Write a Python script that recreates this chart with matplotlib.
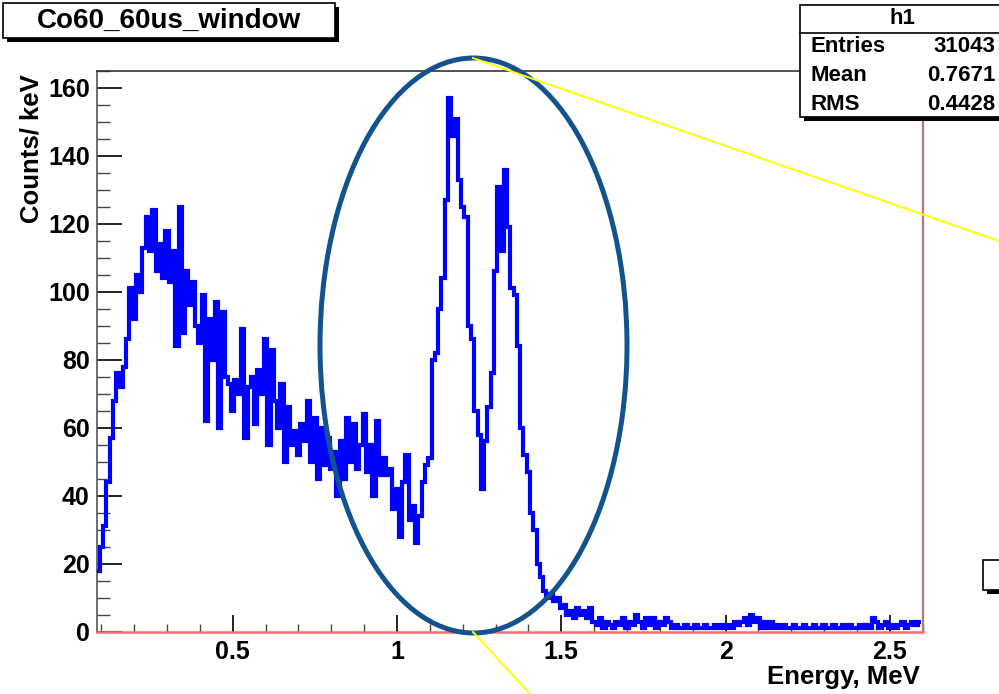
import matplotlib
matplotlib.use('Agg')
import matplotlib.pyplot as plt
import numpy as np
from matplotlib.patches import Rectangle, Ellipse
from matplotlib.lines import Line2D
from matplotlib.ticker import FixedLocator, MultipleLocator, FuncFormatter

plt.rcParams['font.family'] = ['Liberation Sans', 'DejaVu Sans']
plt.rcParams['font.weight'] = 'bold'

# 画布尺寸（像素）
W, H = 999, 694

# 文本
TITLE = 'Co60_60us_window'
X_LABEL = 'Energy, MeV'
Y_LABEL = 'Counts/ keV'
STATS_NAME = 'h1'
STATS_LABELS = ['Entries', 'Mean', 'RMS']
STATS_VALUES = ['31043', '0.7671', '0.4428']

# 直方图：起点 0.085 MeV，每格 0.01 MeV
E_START = 0.085
BIN_WIDTH = 0.01
counts = [
    18, 25, 31, 44, 57, 68, 76, 72, 78, 86,            # 0.09 - 0.18
    101, 92, 105, 100, 113, 122, 112, 124, 106, 114,   # 0.19 - 0.28
    104, 118, 103, 112, 84, 125, 88, 106, 96, 103,     # 0.29 - 0.38
    90, 85, 99, 62, 92, 80, 97, 60, 94, 75,            # 0.39 - 0.48
    73, 65, 74, 70, 89, 57, 72, 75, 61, 77,            # 0.49 - 0.58
    70, 86, 55, 83, 68, 60, 73, 50, 66, 55,            # 0.59 - 0.68
    59, 52, 61, 56, 68, 50, 63, 45, 60, 49,            # 0.69 - 0.78
    57, 48, 53, 40, 56, 45, 63, 50, 61, 48,            # 0.79 - 0.88
    55, 64, 47, 55, 40, 62, 46, 51, 46, 48,            # 0.89 - 0.98
    36, 42, 28, 44, 52, 33, 37, 26, 34, 44,            # 0.99 - 1.08
    49, 51, 80, 82, 95, 104, 127, 157, 146, 151,       # 1.09 - 1.18
    133, 125, 122, 90, 86, 65, 58, 42, 56, 66,         # 1.19 - 1.28
    76, 106, 131, 112, 136, 119, 101, 99, 84, 60,      # 1.29 - 1.38
    52, 47, 35, 30, 20, 16, 12, 10, 11, 9,             # 1.39 - 1.48
    10, 7, 8, 5, 6, 4, 7, 5, 6, 4,                     # 1.49 - 1.58
    7, 3, 2, 4, 1, 3, 2, 1, 3, 2,                      # 1.59 - 1.68
    4, 1, 3, 2, 5, 3, 1, 4, 2, 4,                      # 1.69 - 1.78
    1, 3, 2, 4, 3, 1, 2, 1, 1, 2,                      # 1.79 - 1.88
    1, 1, 2, 1, 1, 2, 1, 1, 2, 1,                      # 1.89 - 1.98
    2, 1, 2, 1, 3, 2, 3, 4, 2, 5,                      # 1.99 - 2.08
    3, 4, 1, 3, 1, 3, 1, 2, 1, 2,                      # 2.09 - 2.18
    1, 1, 2, 1, 1, 2, 1, 1, 2, 1,                      # 2.19 - 2.28
    1, 2, 1, 1, 2, 1, 1, 2, 1, 2,                      # 2.29 - 2.38
    1, 1, 2, 1, 2, 1, 4, 3, 1, 2,                      # 2.39 - 2.48
    3, 1, 2, 1, 2, 3, 1, 2, 3, 2,                      # 2.49 - 2.58
    3,                                                 # 2.59
]

X_RANGE = (0.086, 2.6)
Y_RANGE = (0, 165)
X_TICKS = [0.5, 1, 1.5, 2, 2.5]
Y_TICKS = [0, 20, 40, 60, 80, 100, 120, 140, 160]


def fx(x):
    return x / W


def fy(y):
    return 1 - y / H


def shadow_box(x0, y0, x1, y1, sh=4):
    """ROOT 风格带阴影的白框（像素坐标）"""
    fig.add_artist(Rectangle((fx(x0 + sh), fy(y1 + sh)), fx(x1) - fx(x0), fy(y0) - fy(y1),
                             transform=fig.transFigure, facecolor='black',
                             edgecolor='none', zorder=10))
    fig.add_artist(Rectangle((fx(x0), fy(y1)), fx(x1) - fx(x0), fy(y0) - fy(y1),
                             transform=fig.transFigure, facecolor='white',
                             edgecolor='black', lw=1.2, zorder=11))


fig = plt.figure(figsize=(W / 100, H / 100), dpi=100)
ax = fig.add_axes([fx(96.7), fy(631.7), fx(922.7) - fx(96.7), fy(71) - fy(631.7)])

edges = E_START + BIN_WIDTH * np.arange(len(counts) + 1)
ax.stairs(counts, edges, baseline=None, color='#0000ff', lw=3.0, zorder=3)

ax.set_xlim(*X_RANGE)
ax.set_ylim(*Y_RANGE)

ax.xaxis.set_major_locator(FixedLocator(X_TICKS))
ax.xaxis.set_minor_locator(MultipleLocator(0.1))
ax.yaxis.set_major_locator(FixedLocator(Y_TICKS))
ax.yaxis.set_minor_locator(MultipleLocator(5))
ax.xaxis.set_major_formatter(FuncFormatter(lambda v, p: f'{v:g}'))
ax.yaxis.set_major_formatter(FuncFormatter(lambda v, p: f'{v:g}'))

ax.tick_params(axis='y', which='major', direction='in', length=18, width=1.2,
               color='black', labelsize=18, pad=5)
ax.tick_params(axis='y', which='minor', direction='in', length=9, width=1.0, color='#444444')
ax.tick_params(axis='x', which='major', direction='in', length=12, width=1.2,
               color='black', labelsize=18, pad=6)
ax.tick_params(axis='x', which='minor', direction='in', length=6, width=1.0, color='#444444')
for lab in ax.get_xticklabels() + ax.get_yticklabels():
    lab.set_fontweight('bold')

ax.spines['left'].set_color('#555555')
ax.spines['left'].set_linewidth(1.2)
ax.spines['top'].set_color('#333333')
ax.spines['top'].set_linewidth(1.2)
ax.spines['right'].set_color('#b07a7a')
ax.spines['right'].set_linewidth(1.6)
ax.spines['bottom'].set_color('#f07070')
ax.spines['bottom'].set_linewidth(1.8)

# 坐标轴标题
fig.text(fx(32), fy(149), Y_LABEL, rotation=90, ha='center', va='center',
         fontsize=18.5, fontweight='bold')
fig.text(fx(920), fy(677), X_LABEL, ha='right', va='center',
         fontsize=18.5, fontweight='bold')

# 标题框
shadow_box(3, 3, 335, 38)
fig.text(fx(169), fy(21), TITLE, ha='center', va='center', fontsize=20,
         fontweight='bold', zorder=12)

# 统计框
shadow_box(800, 5, 1010, 117)
fig.add_artist(Line2D([fx(800), fx(1000)], [fy(33), fy(33)], transform=fig.transFigure,
                      color='black', lw=1.2, zorder=12))
fig.text(fx(902), fy(19), STATS_NAME, ha='center', va='center', fontsize=16,
         fontweight='bold', zorder=12)
for i, (lab, val) in enumerate(zip(STATS_LABELS, STATS_VALUES)):
    yy = 47 + i * 28.5
    fig.text(fx(810), fy(yy), lab, ha='left', va='center', fontsize=16,
             fontweight='bold', zorder=12)
    fig.text(fx(995), fy(yy), val, ha='right', va='center', fontsize=16,
             fontweight='bold', zorder=12)

# 右侧图例框（被裁掉一半）
shadow_box(983, 560, 1010, 590)

# 椭圆标注与黄色引线
fig.add_artist(Ellipse((fx(473.5), fy(345.5)), 307 / W, 575 / H, transform=fig.transFigure,
                       facecolor='none', edgecolor='#12538e', lw=3.6, zorder=8))
fig.add_artist(Line2D([fx(473), fx(999)], [fy(58), fy(241)], transform=fig.transFigure,
                      color='#ffff00', lw=1.4, zorder=9))
fig.add_artist(Line2D([fx(473), fx(530)], [fy(632), fy(694)], transform=fig.transFigure,
                      color='#ffff00', lw=1.4, zorder=9))

fig.savefig('out.png', dpi=100)
